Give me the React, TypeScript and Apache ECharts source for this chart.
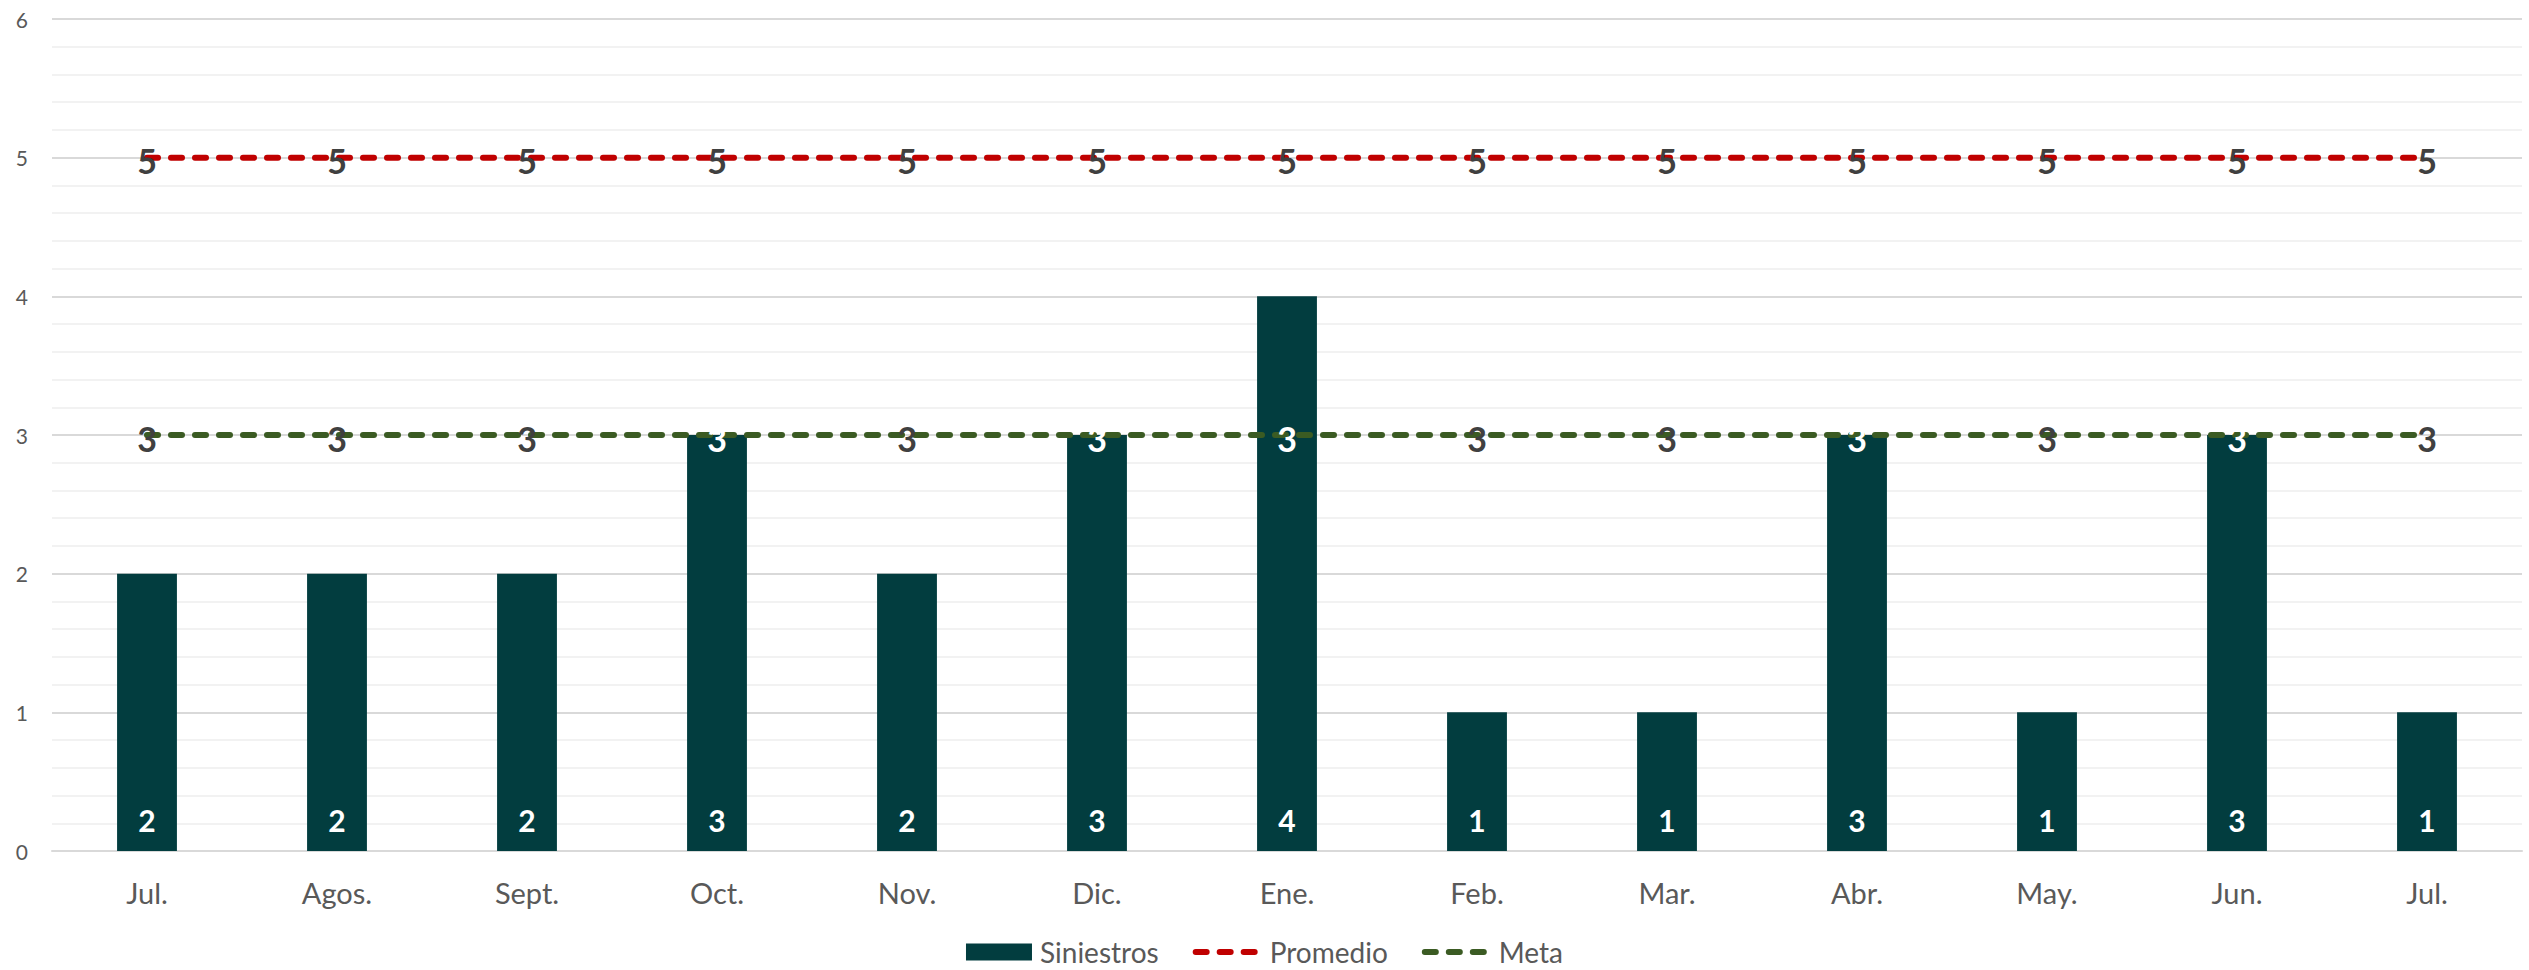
import React, { useEffect, useRef } from "react";
import * as echarts from "echarts";

const categories = ["Jul.", "Agos.", "Sept.", "Oct.", "Nov.", "Dic.", "Ene.", "Feb.", "Mar.", "Abr.", "May.", "Jun.", "Jul."];
const siniestros = [2, 2, 2, 3, 2, 3, 4, 1, 1, 3, 1, 3, 1];
const promedio = [5, 5, 5, 5, 5, 5, 5, 5, 5, 5, 5, 5, 5];
const meta = [3, 3, 3, 3, 3, 3, 3, 3, 3, 3, 3, 3, 3];
const yTicks = [0, 1, 2, 3, 4, 5, 6];

const FONT = "Lato, 'Open Sans', sans-serif";
const RED = "#C00000";
const GREEN = "#3B5B23";
const BAR = "#023D3F";
const DASH = [11, 13];

export default function App() {
  const ref = useRef<HTMLDivElement>(null);
  useEffect(() => {
    document.body.style.margin = "0";
    if (!ref.current) return;
    const chart = echarts.init(ref.current, undefined, { renderer: "svg" });
    const lineLabel = (vals: number[]) =>
      vals.map((v, i) => ({
        value: v,
        label: { color: siniestros[i] >= v ? "#FFFFFF" : "#404040" },
      }));
    const lineSeries = (name: string, vals: number[], color: string) => ({
      name,
      type: "line",
      data: lineLabel(vals),
      symbol: "circle",
      symbolSize: 2,
      showSymbol: true,
      itemStyle: { color: "rgba(0,0,0,0)", borderWidth: 0 },
      lineStyle: { color, width: 6, type: DASH, cap: "round" },
      label: {
        show: true,
        position: "inside",
        offset: [0, 3],
        fontWeight: "bold",
        fontSize: 34,
        color: "#404040",
        fontFamily: FONT,
      },
      emphasis: { disabled: true },
      z: 3,
    });
    chart.setOption({
      animation: false,
      textStyle: { fontFamily: FONT },
      grid: { left: 52, right: 7, top: 19, bottom: 119, containLabel: false },
      legend: {
        top: 938,
        left: "center",
        padding: 0,
        itemWidth: 66,
        itemHeight: 17,
        itemGap: 34,
        textStyle: {
          fontSize: 28,
          lineHeight: 28,
          color: "#595959",
          fontFamily: FONT,
          padding: [0, 0, 0, 3],
        },
        data: [
          { name: "Siniestros", icon: "rect", itemStyle: { color: BAR } },
          {
            name: "Promedio",
            itemStyle: { color: "rgba(0,0,0,0)" },
            lineStyle: { color: RED, width: 6, type: DASH, cap: "round" },
          },
          {
            name: "Meta",
            itemStyle: { color: "rgba(0,0,0,0)" },
            lineStyle: { color: GREEN, width: 6, type: DASH, cap: "round" },
          },
        ],
      },
      xAxis: {
        type: "category",
        data: categories,
        boundaryGap: true,
        axisLine: { show: true, lineStyle: { color: "#D9D9D9", width: 2 } },
        axisTick: { show: false },
        axisLabel: { fontSize: 29, color: "#595959", margin: 27, fontFamily: FONT },
      },
      yAxis: {
        type: "value",
        min: yTicks[0],
        max: yTicks[yTicks.length - 1],
        interval: 1,
        axisLine: { show: false },
        axisTick: { show: false },
        axisLabel: { fontSize: 21, color: "#595959", margin: 24, fontFamily: FONT },
        splitLine: { show: true, lineStyle: { color: "#D9D9D9", width: 2 } },
        minorTick: { show: false, splitNumber: 5 },
        minorSplitLine: { show: true, lineStyle: { color: "#F2F2F2", width: 2 } },
      },
      series: [
        {
          name: "Siniestros",
          type: "bar",
          data: siniestros,
          barWidth: "31.5%",
          itemStyle: { color: BAR },
          label: {
            show: true,
            position: "insideBottom",
            distance: 16,
            color: "#FFFFFF",
            fontWeight: "bold",
            fontSize: 30,
            fontFamily: FONT,
          },
          emphasis: { disabled: true },
          z: 2,
        },
        lineSeries("Promedio", promedio, RED),
        lineSeries("Meta", meta, GREEN),
      ],
    });
    return () => chart.dispose();
  }, []);
  return <div ref={ref} style={{ width: 2529, height: 970 }} />;
}
